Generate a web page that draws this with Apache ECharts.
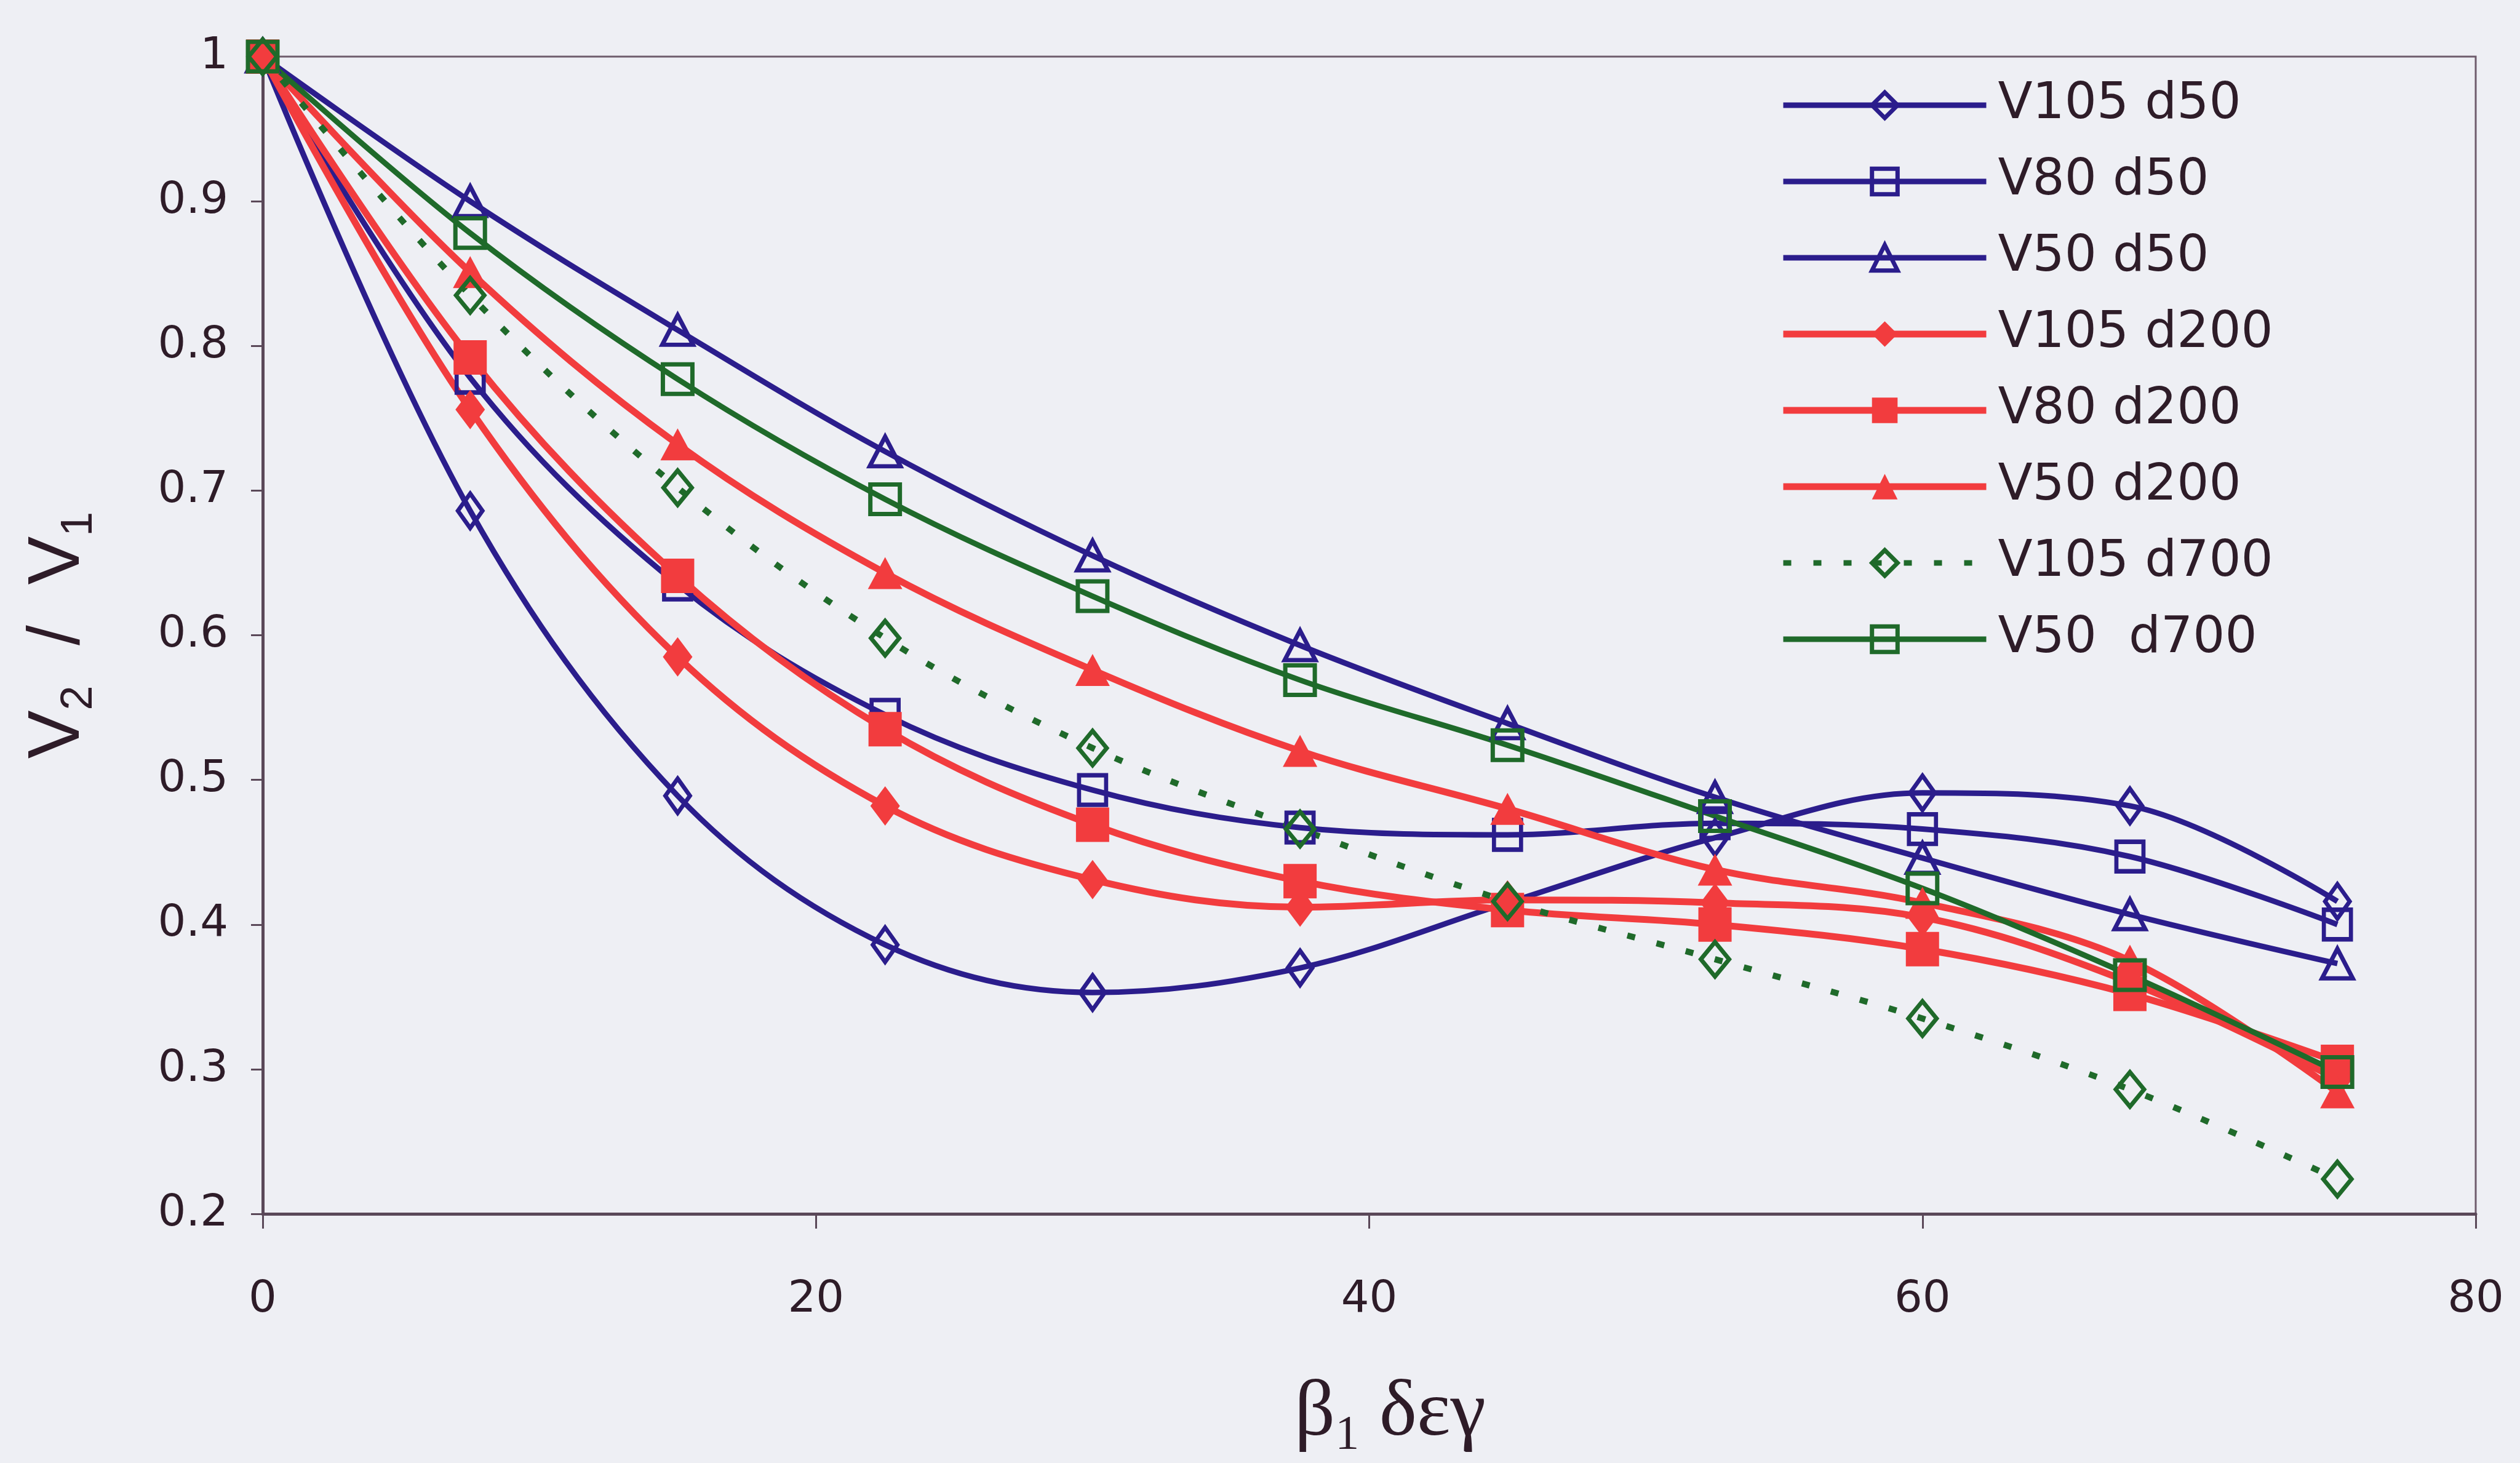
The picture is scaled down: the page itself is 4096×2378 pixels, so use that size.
<!DOCTYPE html>
<html>
<head>
<meta charset="utf-8">
<script src="https://cdn.jsdelivr.net/npm/echarts@6/dist/echarts.min.js"></script>
<style>
  html, body { margin: 0; padding: 0; background: #eeeff4; }
  #chart { width: 4096px; height: 2378px; }
</style>
</head>
<body>
<div id="chart"></div>
<script>
var xValues = [0, 7.5, 15, 22.5, 30, 37.5, 45, 52.5, 60, 67.5, 75];

var v105d50 = [1, 0.686, 0.489, 0.386, 0.353, 0.370, 0.415, 0.460, 0.491, 0.482, 0.416];
var v80d50 = [1, 0.778, 0.635, 0.545, 0.493, 0.467, 0.462, 0.470, 0.466, 0.447, 0.400];
var v50d50 = [1, 0.900, 0.811, 0.727, 0.655, 0.593, 0.539, 0.488, 0.446, 0.407, 0.373];
var v105d200 = [1, 0.756, 0.585, 0.482, 0.431, 0.412, 0.417, 0.415, 0.405, 0.360, 0.293];
var v80d200 = [1, 0.792, 0.641, 0.535, 0.469, 0.430, 0.410, 0.400, 0.383, 0.352, 0.305];
var v50d200 = [1, 0.851, 0.732, 0.643, 0.576, 0.520, 0.480, 0.438, 0.415, 0.375, 0.284];
var v105d700 = [1, 0.835, 0.702, 0.598, 0.522, 0.466, 0.416, 0.376, 0.335, 0.286, 0.224];
var v50d700 = [1, 0.878, 0.777, 0.694, 0.627, 0.569, 0.524, 0.475, 0.425, 0.365, 0.298];

var seriesNames = ['V105 d50', 'V80 d50', 'V50 d50', 'V105 d200', 'V80 d200', 'V50 d200', 'V105 d700', 'V50  d700'];

var blue = '#2b1d8c';
var red = '#f23c3e';
var green = '#1f6a2a';
var textColor = '#2e1c28';
var dotted = [13, 36];

function pairs(ys) {
  return xValues.map(function (x, i) { return [x, ys[i]]; });
}

// hollow marker: transparent fill, coloured outline
function hollow(name, ys, color, symbol, size, dashed) {
  return {
    name: name,
    type: 'line',
    data: pairs(ys),
    smooth: 0.35,
    symbol: symbol,
    symbolSize: size,
    color: color,
    lineStyle: { color: color, width: dashed ? 10 : 9, type: dashed ? dotted : 'solid', cap: 'butt' },
    itemStyle: { color: 'rgba(0,0,0,0)', borderColor: color, borderWidth: 7 }
  };
}

function filled(name, ys, color, symbol, size) {
  return {
    name: name,
    type: 'line',
    data: pairs(ys),
    smooth: 0.35,
    symbol: symbol,
    symbolSize: size,
    color: color,
    lineStyle: { color: color, width: 11 },
    itemStyle: { color: color, borderWidth: 0 }
  };
}

// legend entries drawn with the same stroke widths as the plot
var legendData = seriesNames.map(function (n, i) {
  var isRed = i >= 3 && i <= 5;
  var c = i < 3 ? blue : (isRed ? red : green);
  return {
    name: n,
    lineStyle: { color: c, width: isRed ? 11 : 9, type: i === 6 ? dotted : 'solid' },
    itemStyle: isRed ? { color: c, borderWidth: 0 } : { color: 'rgba(0,0,0,0)', borderColor: c, borderWidth: 7 }
  };
});

var myChart = echarts.init(document.getElementById('chart'));

var option = {
  backgroundColor: '#eeeff4',
  animation: false,
  grid: {
    left: 427,
    right: 72,
    top: 92,
    bottom: 401,
    show: true,
    borderColor: '#6e5c6c',
    borderWidth: 3,
    backgroundColor: 'transparent'
  },
  legend: {
    orient: 'vertical',
    left: 2893,
    top: 130,
    padding: 0,
    itemWidth: 330,
    itemHeight: 52,
    itemGap: 42,
    data: legendData,
    textStyle: {
      fontFamily: 'DejaVu Sans',
      fontSize: 82,
      color: textColor,
      padding: [0, 0, 0, 14]
    }
  },
  xAxis: {
    type: 'value',
    min: 0,
    max: 80,
    interval: 20,
    name: 'β{s|1} δεγ',
    nameLocation: 'middle',
    nameGap: 250,
    nameTextStyle: {
      fontFamily: 'Liberation Serif',
      fontSize: 130,
      color: textColor,
      padding: [0, 0, 0, 68],
      rich: {
        s: { fontFamily: 'Liberation Serif', fontSize: 78, color: textColor, verticalAlign: 'bottom', lineHeight: 150 }
      }
    },
    axisLine: { show: true, lineStyle: { color: '#5a4858', width: 5 } },
    axisTick: { show: true, length: 24, lineStyle: { color: '#5a4858', width: 3 } },
    axisLabel: { fontFamily: 'DejaVu Sans', fontSize: 72, color: textColor, margin: 104 },
    splitLine: { show: false }
  },
  yAxis: {
    type: 'value',
    min: 0.2,
    max: 1,
    interval: 0.1,
    name: 'V{s|2}  /  V{s|1}',
    nameLocation: 'middle',
    nameGap: 262,
    nameTextStyle: {
      fontFamily: 'Liberation Sans',
      fontSize: 118,
      color: textColor,
      rich: {
        s: { fontFamily: 'Liberation Sans', fontSize: 72, color: textColor, verticalAlign: 'bottom', lineHeight: 140 }
      }
    },
    axisLine: { show: true, lineStyle: { color: '#5a4858', width: 5 } },
    axisTick: { show: true, length: 19, lineStyle: { color: '#5a4858', width: 3 } },
    axisLabel: {
      fontFamily: 'DejaVu Sans',
      fontSize: 72,
      color: textColor,
      margin: 56,
      formatter: function (v) {
        return Math.abs(v - 1) < 1e-9 ? '1' : v.toFixed(1);
      }
    },
    splitLine: { show: false }
  },
  series: [
    hollow(seriesNames[0], v105d50, blue, 'diamond', [40, 56], false),
    hollow(seriesNames[1], v80d50, blue, 'rect', [44, 48], false),
    hollow(seriesNames[2], v50d50, blue, 'triangle', [50, 48], false),
    filled(seriesNames[3], v105d200, red, 'diamond', [48, 64]),
    filled(seriesNames[4], v80d200, red, 'rect', [54, 56]),
    filled(seriesNames[5], v50d200, red, 'triangle', [56, 52]),
    hollow(seriesNames[6], v105d700, green, 'diamond', [46, 56], true),
    hollow(seriesNames[7], v50d700, green, 'rect', [48, 48], false)
  ]
};

myChart.setOption(option);
</script>
</body>
</html>
